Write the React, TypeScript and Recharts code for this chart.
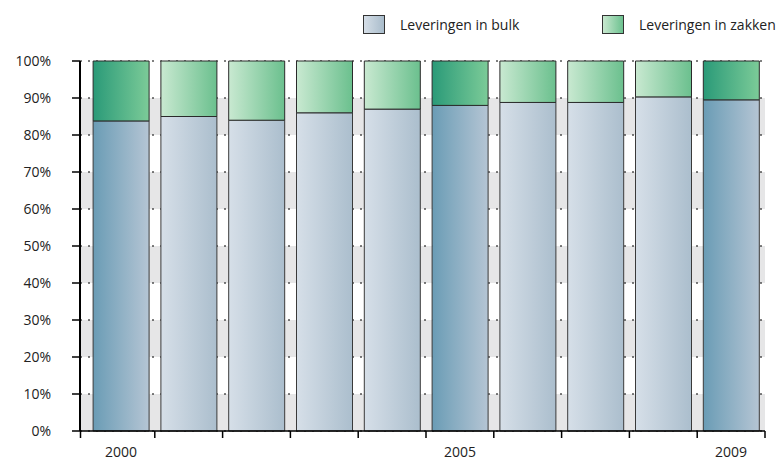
import React from 'react'
import {Bar, BarChart, CartesianGrid, Cell, XAxis, YAxis} from 'recharts'

const years = ['2000', '2001', '2002', '2003', '2004', '2005', '2006', '2007', '2008', '2009']
// share delivered in bulk vs. in bags, percent of total
const bulk = [83.8, 85, 84, 86, 87, 88, 88.8, 88.8, 90.3, 89.5]
const zakken = [16.2, 15, 16, 14, 13, 12, 11.2, 11.2, 9.7, 10.5]
// years drawn in the darker shade and labelled on the x axis
const markedYears = ['2000', '2005', '2009']
const yTicks = [0, 10, 20, 30, 40, 50, 60, 70, 80, 90, 100]

const data = years.map((year, i) => ({year, bulk: bulk[i], zakken: zakken[i]}))

const W = 780
const H = 462
const M = {top: 61, right: 15, bottom: 0, left: 0}
const X_AXIS_H = 31
const Y_AXIS_W = 80
const PAD_LEFT = 7
const HALF_BAND = (W - M.right - Y_AXIS_W - PAD_LEFT) / years.length / 2

const FONT = '"Open Sans", "Noto Sans", sans-serif'
const TEXT = '#222'

const YearTick = (props: any) => {
  const {x, y, payload, index} = props
  const left = index === 0 ? Y_AXIS_W + 0.5 : x - HALF_BAND
  const last = index === years.length - 1
  return (
    <g>
      <line x1={left} x2={left} y1={y} y2={y + 7} stroke='#000' strokeWidth={1.5} />
      {last && (
        <line x1={x + HALF_BAND} x2={x + HALF_BAND} y1={y} y2={y + 7} stroke='#000' strokeWidth={1.5} />
      )}
      {markedYears.includes(payload.value) && (
        <text x={x} y={y + 26} textAnchor='middle' fontSize={14} fontFamily={FONT} fill={TEXT}>
          {payload.value}
        </text>
      )}
    </g>
  )
}

const LegendItem = ({left, label, gradient}: {left: number; label: string; gradient: string}) => (
  <div style={{position: 'absolute', left, top: 15, display: 'flex', alignItems: 'center'}}>
    <div style={{width: 20, height: 17, border: '1px solid #333', background: gradient}} />
    <span style={{marginLeft: 15, fontSize: 14, fontFamily: FONT, color: TEXT}}>{label}</span>
  </div>
)

export default function App() {
  return (
    <div style={{position: 'absolute', left: 0, top: 0, width: W, height: H, background: '#fff'}}>
      <LegendItem left={363} label='Leveringen in bulk' gradient='linear-gradient(to right, #d5dee7, #a9bccb)' />
      <LegendItem left={602} label='Leveringen in zakken' gradient='linear-gradient(to right, #c8e8cf, #6cc18f)' />

      <BarChart width={W} height={H} data={data} margin={M} barCategoryGap='9%'>
        <defs>
          <linearGradient id='bulkDark' x1='0' y1='0' x2='1' y2='0'>
            <stop offset='0%' stopColor='#6a9cb5' />
            <stop offset='100%' stopColor='#b5c5d4' />
          </linearGradient>
          <linearGradient id='bulkLight' x1='0' y1='0' x2='1' y2='0'>
            <stop offset='0%' stopColor='#d6dfe8' />
            <stop offset='100%' stopColor='#abbecd' />
          </linearGradient>
          <linearGradient id='bagDark' x1='0' y1='0' x2='1' y2='0'>
            <stop offset='0%' stopColor='#2a9a78' />
            <stop offset='100%' stopColor='#7ccb98' />
          </linearGradient>
          <linearGradient id='bagLight' x1='0' y1='0' x2='1' y2='0'>
            <stop offset='0%' stopColor='#c9e9d1' />
            <stop offset='100%' stopColor='#6bc08e' />
          </linearGradient>
        </defs>

        <CartesianGrid
          vertical={false}
          stroke='#000'
          strokeDasharray='2 6'
          horizontalFill={['transparent', '#e6e6e7']}
          fillOpacity={1}
        />

        <XAxis
          dataKey='year'
          interval={0}
          padding={{left: PAD_LEFT, right: 0}}
          height={X_AXIS_H}
          tickLine={false}
          tickSize={0}
          tickMargin={0}
          axisLine={{stroke: '#000', strokeWidth: 1.5}}
          tick={<YearTick />}
        />
        <YAxis
          width={Y_AXIS_W}
          domain={[0, 100]}
          ticks={yTicks}
          interval={0}
          tickFormatter={(v) => `${v}%`}
          tickSize={8}
          tickMargin={21}
          tickLine={{stroke: '#000', strokeWidth: 1.5}}
          axisLine={{stroke: '#000', strokeWidth: 2}}
          tick={{fontSize: 14, fontFamily: FONT, fill: TEXT}}
        />
        <YAxis
          yAxisId='right'
          orientation='right'
          width={0}
          domain={[0, 100]}
          tick={false}
          tickLine={false}
          axisLine={{stroke: '#000', strokeWidth: 1}}
        />

        <Bar dataKey='bulk' stackId='a' stroke='#3a3a3a' strokeWidth={1} isAnimationActive={false}>
          {data.map((d) => (
            <Cell key={d.year} fill={markedYears.includes(d.year) ? 'url(#bulkDark)' : 'url(#bulkLight)'} />
          ))}
        </Bar>
        <Bar dataKey='zakken' stackId='a' stroke='#2a2a2a' strokeWidth={1} isAnimationActive={false}>
          {data.map((d) => (
            <Cell key={d.year} fill={markedYears.includes(d.year) ? 'url(#bagDark)' : 'url(#bagLight)'} />
          ))}
        </Bar>
      </BarChart>
    </div>
  )
}
